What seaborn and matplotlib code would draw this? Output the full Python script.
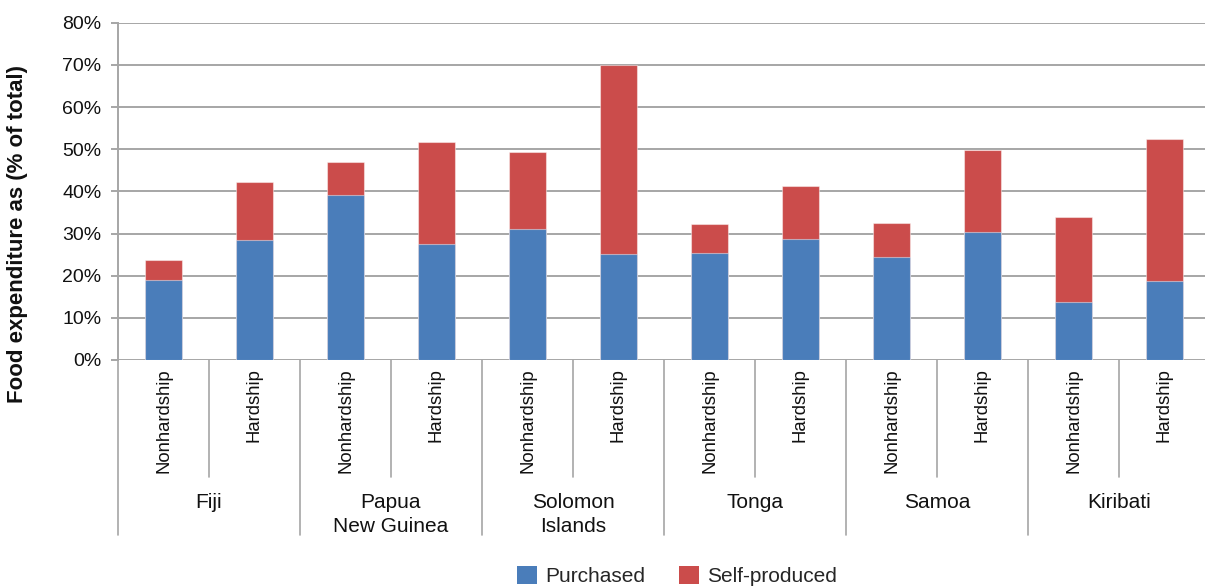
import numpy as np
import pandas as pd
import matplotlib
matplotlib.use("Agg")
import matplotlib.pyplot as plt
import matplotlib.transforms as mtransforms
from matplotlib.patches import Patch
import seaborn as sns

# ---- data -------------------------------------------------------------
countries = ["Fiji", "Papua\nNew Guinea", "Solomon\nIslands", "Tonga", "Samoa", "Kiribati"]
household_types = ["Nonhardship", "Hardship"]
purchased = [18.9, 28.5, 39.1, 27.5, 31.0, 25.1, 25.3, 28.7, 24.4, 30.3, 13.8, 18.8]
self_produced = [4.8, 13.6, 7.9, 24.1, 18.3, 44.8, 7.0, 12.6, 8.2, 19.6, 20.0, 33.7]
y_ticks = [0, 10, 20, 30, 40, 50, 60, 70, 80]

BLUE = "#4A7DBA"
RED = "#CB4C4B"
GRID = "#A6A6A6"
TEXT = "#111111"

slots = [f"{c}|{h}" for c in countries for h in household_types]
df = pd.DataFrame({
    "slot": slots,
    "purchased": purchased,
    "self_produced": self_produced,
})
df["total"] = df["purchased"] + df["self_produced"]

# ---- figure -----------------------------------------------------------
sns.set_theme(style="white")
plt.rcParams["font.family"] = ["Liberation Sans", "DejaVu Sans"]

W, H = 1205, 588
fig = plt.figure(figsize=(W / 100, H / 100), dpi=100)
ax_left, ax_right, ax_top, ax_bottom = 118, 1210, 22.7, 360
ax = fig.add_axes([ax_left / W, 1 - ax_bottom / H,
                   (ax_right - ax_left) / W, (ax_bottom - ax_top) / H])

# stacked bars: total (self-produced on top), then purchased part in front
sns.barplot(data=df, x="slot", y="total", order=slots, color=RED, saturation=1,
            width=0.4, edgecolor=(1, 1, 1, 0.45), linewidth=0.8, ax=ax, zorder=3)
sns.barplot(data=df, x="slot", y="purchased", order=slots, color=BLUE, saturation=1,
            width=0.4, edgecolor=(1, 1, 1, 0.45), linewidth=0.8, ax=ax, zorder=4)

ax.set_xlim(-0.5, len(slots) - 0.5)
ax.set_ylim(0, 80)
ax.set_yticks(y_ticks)
ax.set_yticklabels([f"{v}%" for v in y_ticks], fontsize=14, color=TEXT)
ax.set_xticks([])
ax.set_xlabel("")
ax.set_ylabel("")

ax.yaxis.grid(True, color=GRID, linewidth=1.4)
ax.set_axisbelow(True)
for side in ("top", "right", "bottom"):
    ax.spines[side].set_visible(False)
ax.spines["left"].set_color(GRID)
ax.spines["left"].set_linewidth(1.4)
ax.tick_params(axis="y", which="major", left=True, length=5, width=1.4,
               color=GRID, pad=7)

# ---- two-level category axis ------------------------------------------
trans = mtransforms.blended_transform_factory(ax.transData, ax.transAxes)
span = ax_bottom - ax_top
def frac(py):
    return -(py - ax_bottom) / span

inner_bottom = frac(477)
outer_bottom = frac(535)
line_kw = dict(color=GRID, linewidth=1.2, transform=trans, clip_on=False, zorder=1)

for i in range(len(slots) + 1):
    x = i - 0.5
    yb = outer_bottom if i % 2 == 0 else inner_bottom
    ax.plot([x, x], [0, yb], **line_kw)

for i, s in enumerate(slots):
    label = s.split("|")[1]
    ax.text(i, frac(368), label, rotation=90, ha="center", va="top",
            fontsize=13.3, color=TEXT, transform=trans)

for j, c in enumerate(countries):
    ax.text(2 * j + 0.5, frac(493), c, ha="center", va="top",
            fontsize=15, color=TEXT, transform=trans, linespacing=1.35)

# ---- axis title and legend --------------------------------------------
fig.text(18 / W, 1 - 234 / H, "Food expenditure as (% of total)", rotation=90,
         ha="center", va="center", fontsize=16, fontweight="bold", color=TEXT)

handles = [Patch(facecolor=BLUE, edgecolor="none", label="Purchased"),
           Patch(facecolor=RED, edgecolor="none", label="Self-produced")]
fig.legend(handles=handles, loc="center", bbox_to_anchor=(677 / W, 1 - 576 / H),
           ncol=2, frameon=False, fontsize=15, handlelength=0.97, handleheight=0.97,
           handletextpad=0.4, columnspacing=1.6, borderaxespad=0, borderpad=0)

fig.savefig("out.png", dpi=100)
